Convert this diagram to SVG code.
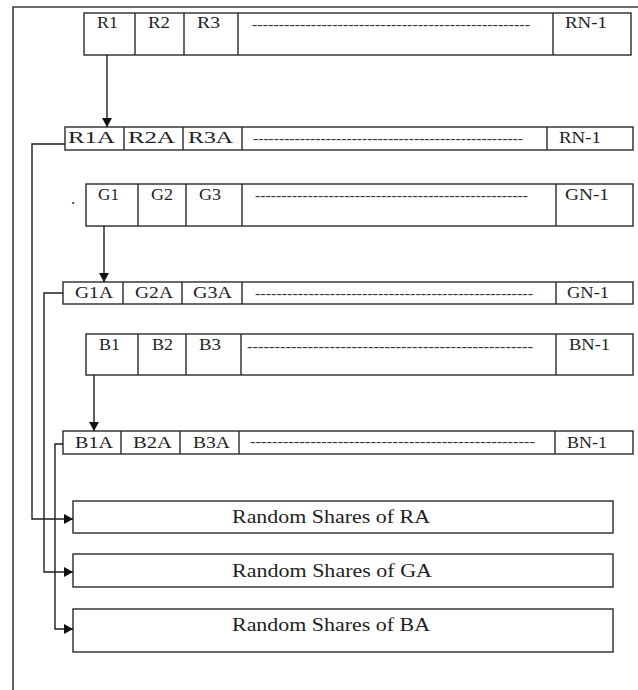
<svg xmlns="http://www.w3.org/2000/svg" width="638" height="690" viewBox="0 0 638 690">
<style>
.box{fill:#fff;stroke:#2a2a2a;stroke-width:1.4}
.div{stroke:#2a2a2a;stroke-width:1.4}
.t{font-family:"Liberation Serif","Times New Roman",serif;font-size:17px;fill:#1e1e1e}
.d{font-family:"Liberation Serif","Times New Roman",serif;font-size:14px;fill:#333}
.s{font-family:"Liberation Serif","Times New Roman",serif;font-size:18px;fill:#1e1e1e}
.c{fill:none;stroke:#1e1e1e;stroke-width:1.4}
.f{fill:none;stroke:#3a3a3a;stroke-width:1.6}
</style>
<defs>
<marker id="ah" markerWidth="10" markerHeight="10" refX="9" refY="5" orient="auto" markerUnits="userSpaceOnUse">
<path d="M0,0 L9,5 L0,10 Z" fill="#111"/>
</marker>
</defs>
<rect width="638" height="690" fill="#fff"/>
<g id="frame">
<path class="f" d="M13,690 V7 H638"/>
</g>
<g id="rowR">
<rect class="box" x="84" y="13" width="547" height="42"/>
<path class="div" d="M135,13V55M184,13V55M238,13V55M553,13V55"/>
<text class="t" x="97" y="28" textLength="21" lengthAdjust="spacingAndGlyphs">R1</text>
<text class="t" x="148" y="28" textLength="22" lengthAdjust="spacingAndGlyphs">R2</text>
<text class="t" x="197" y="28" textLength="23" lengthAdjust="spacingAndGlyphs">R3</text>
<text class="d" x="252" y="29" textLength="278" lengthAdjust="spacingAndGlyphs">----------------------------------------------------</text>
<text class="t" x="565" y="28" textLength="42" lengthAdjust="spacingAndGlyphs">RN-1</text>
</g>
<g id="rowRA">
<rect class="box" x="65" y="127" width="568" height="23"/>
<path class="div" d="M124,127V150M183,127V150M242,127V150M547,127V150"/>
<text class="t" x="68" y="143" textLength="47" lengthAdjust="spacingAndGlyphs">R1A</text>
<text class="t" x="128" y="143" textLength="47" lengthAdjust="spacingAndGlyphs">R2A</text>
<text class="t" x="188" y="143" textLength="45" lengthAdjust="spacingAndGlyphs">R3A</text>
<text class="d" x="253" y="143" textLength="270" lengthAdjust="spacingAndGlyphs">----------------------------------------------------</text>
<text class="t" x="559" y="143" textLength="42" lengthAdjust="spacingAndGlyphs">RN-1</text>
</g>
<g id="rowG">
<text class="t" x="71" y="204">.</text>
<rect class="box" x="86" y="184" width="547" height="42"/>
<path class="div" d="M138,184V226M186,184V226M242,184V226M556,184V226"/>
<text class="t" x="98" y="200" textLength="21" lengthAdjust="spacingAndGlyphs">G1</text>
<text class="t" x="151" y="200" textLength="22" lengthAdjust="spacingAndGlyphs">G2</text>
<text class="t" x="199" y="200" textLength="22" lengthAdjust="spacingAndGlyphs">G3</text>
<text class="d" x="255" y="200" textLength="273" lengthAdjust="spacingAndGlyphs">----------------------------------------------------</text>
<text class="t" x="565" y="200" textLength="44" lengthAdjust="spacingAndGlyphs">GN-1</text>
</g>
<g id="rowGA">
<rect class="box" x="63" y="282" width="570" height="22"/>
<path class="div" d="M123,282V304M182,282V304M242,282V304M556,282V304"/>
<text class="t" x="75" y="298" textLength="38" lengthAdjust="spacingAndGlyphs">G1A</text>
<text class="t" x="135" y="298" textLength="38" lengthAdjust="spacingAndGlyphs">G2A</text>
<text class="t" x="193" y="298" textLength="39" lengthAdjust="spacingAndGlyphs">G3A</text>
<text class="d" x="255" y="298" textLength="278" lengthAdjust="spacingAndGlyphs">----------------------------------------------------</text>
<text class="t" x="567" y="298" textLength="42" lengthAdjust="spacingAndGlyphs">GN-1</text>
</g>
<g id="rowB">
<rect class="box" x="86" y="334" width="547" height="41"/>
<path class="div" d="M138,334V375M186,334V375M241,334V375M556,334V375"/>
<text class="t" x="99" y="350" textLength="21" lengthAdjust="spacingAndGlyphs">B1</text>
<text class="t" x="152" y="350" textLength="21" lengthAdjust="spacingAndGlyphs">B2</text>
<text class="t" x="199" y="350" textLength="22" lengthAdjust="spacingAndGlyphs">B3</text>
<text class="d" x="247" y="351" textLength="286" lengthAdjust="spacingAndGlyphs">----------------------------------------------------</text>
<text class="t" x="569" y="350" textLength="41" lengthAdjust="spacingAndGlyphs">BN-1</text>
</g>
<g id="rowBA">
<rect class="box" x="63" y="431" width="570" height="23"/>
<path class="div" d="M121,431V454M180,431V454M239,431V454M555,431V454"/>
<text class="t" x="75" y="448" textLength="38" lengthAdjust="spacingAndGlyphs">B1A</text>
<text class="t" x="133" y="448" textLength="39" lengthAdjust="spacingAndGlyphs">B2A</text>
<text class="t" x="193" y="448" textLength="37" lengthAdjust="spacingAndGlyphs">B3A</text>
<text class="d" x="250" y="446" textLength="285" lengthAdjust="spacingAndGlyphs">----------------------------------------------------</text>
<text class="t" x="567" y="448" textLength="40" lengthAdjust="spacingAndGlyphs">BN-1</text>
</g>
<g id="sharesR">
<rect class="box" x="73" y="501" width="540" height="32"/>
<text class="s" x="232" y="523" textLength="198" lengthAdjust="spacingAndGlyphs">Random Shares of RA</text>
</g>
<g id="sharesG">
<rect class="box" x="73" y="554" width="540" height="33"/>
<text class="s" x="232" y="577" textLength="200" lengthAdjust="spacingAndGlyphs">Random Shares of GA</text>
</g>
<g id="sharesB">
<rect class="box" x="73" y="609" width="540" height="43"/>
<text class="s" x="232" y="631" textLength="198" lengthAdjust="spacingAndGlyphs">Random Shares of BA</text>
</g>
<g id="connectors">
<path class="c" d="M107,55 V127" marker-end="url(#ah)"/>
<path class="c" d="M104,226 V282" marker-end="url(#ah)"/>
<path class="c" d="M94,375 V431" marker-end="url(#ah)"/>
<path class="c" d="M65,144 H32 V519 H73" marker-end="url(#ah)"/>
<path class="c" d="M63,293 H44 V572 H73" marker-end="url(#ah)"/>
<path class="c" d="M63,444 H55 V629 H73" marker-end="url(#ah)"/>
</g>
</svg>
